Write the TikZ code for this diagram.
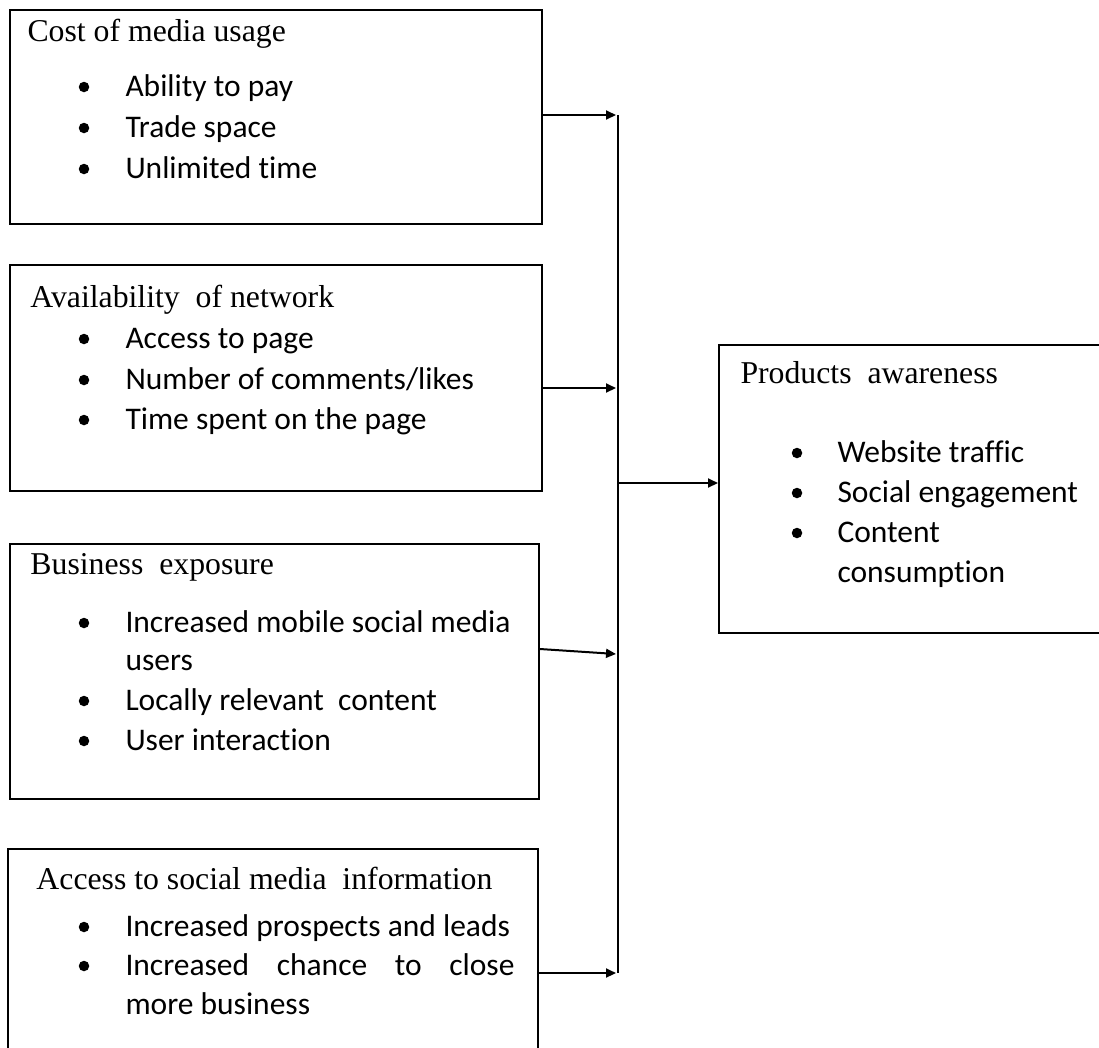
\documentclass[tikz,border=0pt]{standalone}
\usepackage{fontspec}
\setmainfont{Liberation Serif}
\newfontfamily\calibri[Ligatures=NoCommon]{Carlito}
\usetikzlibrary{arrows.meta}

\begin{document}
\begin{tikzpicture}[x=0.4pt, y=-0.4pt,
  box/.style 2 args={draw, line width=0.8pt, inner sep=0pt, anchor=north west,
    minimum width=#1*0.4pt, minimum height=#2*0.4pt},
  title/.style={anchor=base west, inner sep=0pt, font=\fontsize{12.7}{16}\selectfont},
  item/.style={anchor=base west, inner sep=0pt, font=\calibri\fontsize{12.6}{16}\selectfont},
  dot/.style={circle, fill, inner sep=0pt, minimum size=4.2pt},
  arr/.style={line width=0.8pt, -{Triangle[length=4pt, width=3.6pt]}}]
\useasboundingbox (0,0) rectangle (1099,1047);
\clip (0,0) rectangle (1099,1047);

% boxes
\node[box={532}{214}] (cost) at (9,9) {};
\node[box={532}{226}] (net) at (9,264) {};
\node[box={529}{255}] (expo) at (9,543) {};
\node[box={530}{260}] (info) at (7,848) {};
\node[box={400}{288}] (aware) at (718,344) {};

% titles
\node[title] (costT) at (27,41) {Cost of media usage};
\node[title] (netT) at (30,307) {Availability\ \ of network};
\node[title] (expoT) at (30,574) {Business\ \ exposure};
\node[title] (infoT) at (36,889) {Access to social media\ \ information};
\node[title] (awareT) at (740,383) {Products\ \ awareness};

% bullet lists
\foreach \yy/\txt [count=\i] in {96/Ability to pay, 137/Trade space, 178/Unlimited time} {
  \node[dot] (cd\i) at (84,\yy-9) {};
  \node[item] (ci\i) at (125,\yy) {\txt};
}
\foreach \yy/\txt [count=\i] in {348/Access to page, 389/{Number of comments/likes}, 429/Time spent on the page} {
  \node[dot] (nd\i) at (84,\yy-9) {};
  \node[item] (ni\i) at (125,\yy) {\txt};
}
\foreach \yy/\txt [count=\i] in {632/Increased mobile social media, 710/Locally relevant\ \ content, 750/User interaction} {
  \node[dot] (ed\i) at (84,\yy-9) {};
  \node[item] (ei\i) at (125,\yy) {\txt};
}
\node[item] (ei4) at (125,670) {users};
\foreach \yy/\txt [count=\i] in {936/Increased prospects and leads, 975/{\makebox[155.6pt][s]{Increased chance to close}}} {
  \node[dot] (id\i) at (84,\yy-9) {};
  \node[item] (ii\i) at (125,\yy) {\txt};
}
\node[item] (ii3) at (125,1014) {more business};
\foreach \yy/\txt [count=\i] in {462/Website traffic, 502/Social engagement, 542/Content} {
  \node[dot] (ad\i) at (797,\yy-9) {};
  \node[item] (ai\i) at (837,\yy) {\txt};
}
\node[item] (ai4) at (837,582) {consumption};

% bus and connectors
\coordinate (j1) at (616,115);
\coordinate (j2) at (616,388);
\coordinate (j3) at (616,654);
\coordinate (j4) at (616,973);
\coordinate (jm) at (619,483);
\draw[line width=0.8pt] (618,115) -- (618,973);
\draw[arr] (cost.east |- j1) -- (j1);
\draw[arr] (net.east |- j2) -- (j2);
\draw[arr] ([yshift=2pt]expo.east |- j3) -- (j3);
\draw[arr] (info.east |- j4) -- (j4);
\draw[arr] (jm) -- (aware.west |- jm);
\end{tikzpicture}
\end{document}
